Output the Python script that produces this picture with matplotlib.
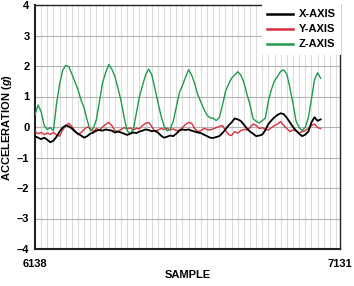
import numpy as np
import matplotlib
matplotlib.use("Agg")
import matplotlib.pyplot as plt

plt.rcParams['font.family'] = ['Liberation Sans', 'DejaVu Sans']
plt.rcParams['mathtext.fontset'] = 'custom'
plt.rcParams['mathtext.it'] = 'Liberation Sans:italic:bold'
plt.rcParams['mathtext.rm'] = 'Liberation Sans:bold'

# sample numbers (one reading every 10 samples)
samples = np.arange(6138, 7069, 10)

z_axis = [0.40, 0.72, 0.50, 0.05, -0.08, -0.02, -0.12, 0.75, 1.40, 1.85,
          2.02, 1.98, 1.74, 1.48, 1.22, 0.88, 0.62, 0.22, -0.12, -0.04,
          0.25, 0.85, 1.45, 1.78, 2.05, 1.90, 1.66, 1.28, 0.86, 0.33,
          -0.12, -0.22, -0.08, 0.45, 1.00, 1.36, 1.70, 1.90, 1.72, 1.28,
          0.82, 0.38, 0.03, -0.13, -0.07, 0.18, 0.65, 1.12, 1.36, 1.63,
          1.88, 1.70, 1.42, 1.06, 0.82, 0.58, 0.39, 0.30, 0.29, 0.21,
          0.31, 0.70, 1.16, 1.40, 1.60, 1.70, 1.81, 1.71, 1.46, 1.08,
          0.73, 0.27, 0.19, 0.13, 0.21, 0.29, 0.86, 1.24, 1.52, 1.66,
          1.83, 1.87, 1.73, 1.28, 0.77, 0.19, -0.02, -0.11, -0.01, 0.30,
          0.92, 1.55, 1.78, 1.60]

y_axis = [-0.15, -0.22, -0.18, -0.25, -0.20, -0.24, -0.18, -0.26, -0.30, -0.10,
          0.05, 0.12, 0.02, -0.12, -0.25, -0.18, -0.08, 0.00, -0.05, -0.15,
          -0.05, -0.10, 0.00, 0.08, 0.15, 0.05, -0.12, -0.15, -0.08, -0.02,
          -0.06, -0.03, -0.10, -0.04, -0.06, 0.05, 0.12, 0.15, 0.02, -0.15,
          -0.10, -0.05, -0.08, -0.04, -0.10, -0.06, -0.12, -0.10, -0.02, 0.08,
          0.15, 0.12, -0.05, -0.15, -0.12, -0.05, -0.08, -0.10, -0.06, -0.02,
          0.02, 0.05, -0.10, -0.25, -0.28, -0.15, -0.20, -0.12, -0.08, -0.10,
          -0.02, 0.10, 0.05, -0.05, -0.02, -0.08, -0.10, -0.02, 0.05, 0.10,
          0.18, 0.05, -0.05, -0.15, -0.10, -0.12, -0.20, -0.15, -0.12, -0.05,
          0.05, 0.10, -0.02, -0.05]

x_axis = [-0.30, -0.35, -0.40, -0.35, -0.42, -0.50, -0.45, -0.32, -0.15, -0.02,
          0.05, 0.02, -0.05, -0.15, -0.22, -0.28, -0.35, -0.30, -0.22, -0.18,
          -0.12, -0.10, -0.12, -0.08, -0.10, -0.12, -0.18, -0.15, -0.18, -0.22,
          -0.26, -0.22, -0.18, -0.20, -0.15, -0.12, -0.08, -0.10, -0.14, -0.12,
          -0.18, -0.28, -0.35, -0.32, -0.28, -0.30, -0.22, -0.12, -0.08, -0.10,
          -0.08, -0.12, -0.15, -0.18, -0.20, -0.25, -0.30, -0.35, -0.36, -0.33,
          -0.30, -0.20, -0.08, 0.05, 0.15, 0.28, 0.25, 0.20, 0.08, -0.05,
          -0.15, -0.22, -0.30, -0.28, -0.25, -0.10, 0.10, 0.22, 0.32, 0.40,
          0.45, 0.42, 0.30, 0.15, 0.00, -0.12, -0.22, -0.30, -0.25, -0.15,
          0.15, 0.32, 0.20, 0.25]

x_min, x_max = 6138, 7131
y_ticks = [-4, -3, -2, -1, 0, 1, 2, 3, 4]
y_tick_labels = ['\u20134', '\u20133', '\u20132', '\u20131', '0', '1', '2', '3', '4']
series_names = ['X-AXIS', 'Y-AXIS', 'Z-AXIS']

fig = plt.figure(figsize=(3.54, 2.86), dpi=100)
ax = fig.add_axes([35/354, 1-249/286, 305/354, 244/286])

# grid
for gx in range(x_min + 20, x_max, 20):
    ax.axvline(gx, color='#dcdcdc', lw=0.8, zorder=0)
for gy in y_ticks[1:-1]:
    ax.axhline(gy, color='#b4b4b4', lw=0.8, zorder=0)

ax.plot(samples, x_axis, color='black', lw=1.3, label=series_names[0], zorder=5)
ax.plot(samples, y_axis, color='#d7303c', lw=1.0, label=series_names[1], zorder=3)
ax.plot(samples, z_axis, color='#1f9a4e', lw=1.0, label=series_names[2], zorder=4)

ax.set_xlim(x_min, x_max)
ax.set_ylim(-4, 4)
ax.set_yticks(y_ticks)
ax.set_yticklabels(y_tick_labels, fontsize=8, fontweight='bold')
ax.set_xticks([x_min, x_max])
ax.set_xticklabels([str(x_min), str(x_max)], fontsize=8, fontweight='bold')
ax.tick_params(axis='y', length=0, pad=4)
ax.tick_params(axis='x', length=0, pad=7)
for s in ax.spines.values():
    s.set_color('#222222')
ax.spines['left'].set_linewidth(1.5)
ax.spines['bottom'].set_linewidth(1.5)
ax.spines['top'].set_linewidth(1.0)
ax.spines['right'].set_linewidth(1.0)

ax.set_xlabel('SAMPLE', fontsize=8, fontweight='bold')
ax.xaxis.set_label_coords(0.5, -0.085)
ax.set_ylabel('ACCELERATION ($\\mathit{g}$)', fontsize=8, fontweight='bold')
ax.yaxis.set_label_coords(-21/305, 0.5)

leg = ax.legend(loc='upper right', frameon=True, prop={'weight': 'bold', 'size': 8},
                handlelength=2.3, handletextpad=0.5, borderpad=0.3, labelspacing=0.45,
                borderaxespad=0.1)
leg.get_frame().set_edgecolor('none')
leg.get_frame().set_facecolor('white')
leg.get_frame().set_alpha(1.0)
leg.get_frame().set_boxstyle('square', pad=0.2)
for line in leg.get_lines():
    line.set_linewidth(1.8)

fig.savefig('out.png', dpi=100)
